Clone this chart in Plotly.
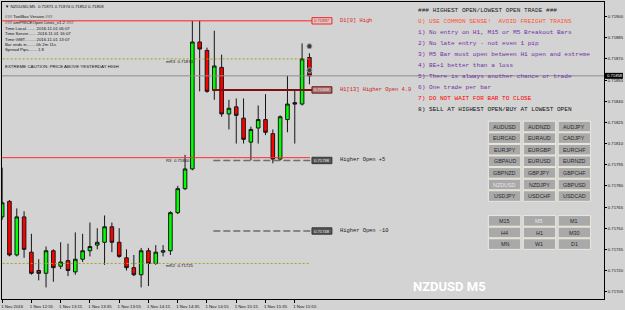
import plotly.graph_objects as go

# ---------------- data ----------------
bar_index = list(range(43))
opens = [0.71758, 0.71769, 0.71731, 0.71758, 0.71733, 0.71720, 0.71718, 0.71734, 0.71723, 0.71727,
         0.71719, 0.71728, 0.71734, 0.71738, 0.71740, 0.71751, 0.71740, 0.71729, 0.71722, 0.71717,
         0.71734, 0.71725, 0.71733, 0.71734, 0.71761, 0.71778, 0.71792, 0.71882, 0.71876, 0.71848,
         0.71864, 0.71831, 0.71836, 0.71828, 0.71811, 0.71821, 0.71827, 0.71817, 0.71799, 0.71827,
         0.71839, 0.71838, 0.71871]
highs = [0.71793, 0.71770, 0.71764, 0.71762, 0.71746, 0.71728, 0.71737, 0.71735, 0.71740, 0.71739,
         0.71747, 0.71746, 0.71754, 0.71750, 0.71759, 0.71754, 0.71750, 0.71735, 0.71731, 0.71736,
         0.71736, 0.71738, 0.71738, 0.71762, 0.71780, 0.71802, 0.71897, 0.71897, 0.71878, 0.71890,
         0.71873, 0.71841, 0.71842, 0.71842, 0.71822, 0.71837, 0.71845, 0.71820, 0.71830, 0.71858,
         0.71848, 0.71881, 0.71874]
lows = [0.71756, 0.71730, 0.71730, 0.71729, 0.71717, 0.71713, 0.71708, 0.71712, 0.71721, 0.71716,
        0.71717, 0.71726, 0.71730, 0.71735, 0.71724, 0.71733, 0.71729, 0.71720, 0.71716, 0.71708,
        0.71709, 0.71724, 0.71730, 0.71731, 0.71760, 0.71777, 0.71791, 0.71847, 0.71846, 0.71841,
        0.71829, 0.71820, 0.71810, 0.71810, 0.71798, 0.71810, 0.71816, 0.71796, 0.71798, 0.71818,
        0.71810, 0.71837, 0.71852]
closes = [0.71768, 0.71731, 0.71758, 0.71735, 0.71718, 0.71718, 0.71734, 0.71722, 0.71726, 0.71720,
          0.71728, 0.71734, 0.71737, 0.71740, 0.71751, 0.71740, 0.71730, 0.71722, 0.71717, 0.71734,
          0.71725, 0.71733, 0.71734, 0.71761, 0.71778, 0.71792, 0.71882, 0.71877, 0.71847, 0.71865,
          0.71831, 0.71835, 0.71830, 0.71813, 0.71820, 0.71827, 0.71818, 0.71799, 0.71829, 0.71838,
          0.71838, 0.71870, 0.71858]

x_tick_pos = [0, 4, 8, 12, 16, 20, 24, 28, 32, 36, 40]
x_tick_labels = ["1 Nov 2016", "1 Nov 12:55", "1 Nov 13:15", "1 Nov 13:35", "1 Nov 13:55",
                 "1 Nov 14:15", "1 Nov 14:35", "1 Nov 14:55", "1 Nov 15:15", "1 Nov 15:35",
                 "1 Nov 15:55"]
y_tick_vals = [0.71900, 0.71885, 0.71870, 0.71855, 0.71840, 0.71825, 0.71810, 0.71795,
               0.71780, 0.71765, 0.71750, 0.71735, 0.71720, 0.71705]
y_tick_labels = ["0.71900", "0.71885", "0.71870", "0.71855", "0.71840", "0.71825", "0.71810",
                 "0.71795", "0.71780", "0.71765", "0.71750", "0.71735", "0.71720", "0.71705"]

bid_price = 0.71858
d1_high = 0.71897
h1_open = 0.71848
higher_open_p5 = 0.71798
higher_open_m10 = 0.71748
pivot_names = ["mR3", "R3", "mR2"]
pivot_levels = [0.71870, 0.71800, 0.71725]

info_lines = ["### ToolBox Version ###",
              "### amPRICEOpen Lines_v1.2 ###",
              "Time Local........ 2016.11.01 06:07",
              "Time Server....... 2016.11.01 16:07",
              "Time GMT......... 2016.11.01 13:07",
              "Bar ends in....... 0h 2m 11s",
              "Spread Pips....... 1.8"]
rules = ["### HIGHEST OPEN/LOWEST OPEN TRADE ###",
         "0) USE COMMON SENSE!  AVOID FREIGHT TRAINS",
         "1) No entry on H1, M15 or M5 Breakout Bars",
         "2) No late entry - not even 1 pip",
         "3) M5 Bar must open between H1 open and extreme",
         "4) BE+1 better than a loss",
         "5) There is always another chance or trade",
         "6) One trade per bar",
         "7) DO NOT WAIT FOR BAR TO CLOSE",
         "8) SELL AT HIGHEST OPEN/BUY AT LOWEST OPEN"]
rule_colors = ["#202020", "#FF5533", "#7030A8", "#7030A8", "#7030A8", "#7030A8",
               "#7030A8", "#7030A8", "#FF0000", "#111111"]
pair_buttons = [["AUDUSD", "AUDNZD", "AUDJPY"],
                ["EURCAD", "EURAUD", "CADJPY"],
                ["EURJPY", "EURGBP", "EURCHF"],
                ["GBPAUD", "EURUSD", "EURNZD"],
                ["GBPNZD", "GBPJPY", "GBPCHF"],
                ["NZDUSD", "NZDJPY", "GBPUSD"],
                ["USDJPY", "USDCHF", "USDCAD"]]
tf_buttons = [["M15", "M5", "M1"], ["H4", "H1", "M30"], ["MN", "W1", "D1"]]
selected = {"NZDUSD", "M5"}

# ---------------- layout helpers ----------------
FW, FH = 625, 310
L, R, T, B = 2, 19, 1, 10
W, H = FW - L - R, FH - T - B
BAR_PX = 7.34
X0 = -0.02
X1 = X0 + W / BAR_PX
PX_PER_UNIT = 142000.0
Y1 = 0.71900 + (15.7 - T) / PX_PER_UNIT
Y0 = Y1 - H / PX_PER_UNIT


def px(x):
    return (x - L) / W


def py(y):
    return 1 - (y - T) / H


def bx(xpix):
    return X0 + (xpix - L) / BAR_PX


BG = "#D3D3D3"
SANS = "Liberation Sans, Arial, sans-serif"
MONO = "Liberation Mono, Courier New, monospace"

fig = go.Figure()
fig.add_trace(go.Candlestick(
    x=bar_index, open=opens, high=highs, low=lows, close=closes,
    increasing=dict(fillcolor="#00FF00", line=dict(color="#151515", width=1)),
    decreasing=dict(fillcolor="#FF0000", line=dict(color="#151515", width=1)),
    whiskerwidth=0, showlegend=False, hoverinfo="skip"))

# markers on last bar
fig.add_trace(go.Scatter(x=[42, 42], y=[0.71879, 0.71862], mode="markers",
                         marker=dict(symbol="circle", size=5, color="#3a3a3a",
                                     line=dict(color="#9a9a9a", width=1)),
                         showlegend=False, hoverinfo="skip"))

shapes = []
ann = []

# bid line
shapes.append(dict(type="line", xref="paper", yref="y", x0=0, x1=1, y0=bid_price, y1=bid_price,
                   line=dict(color="#8c8c8c", width=1)))
# pivot lines
for name, lv in zip(pivot_names, pivot_levels):
    if name.startswith("m"):
        shapes.append(dict(type="line", xref="x", yref="y", x0=X0 - 1, x1=bx(311), y0=lv, y1=lv,
                           line=dict(color="#A8A020", width=1, dash="2px,2px")))
    else:
        shapes.append(dict(type="line", xref="x", yref="y", x0=X0 - 1, x1=bx(311), y0=lv, y1=lv,
                           line=dict(color="#FF3030", width=1)))
    ann.append(dict(xref="paper", yref="y", x=px(165), y=lv, yshift=-2.5, xanchor="left",
                    yanchor="middle", text=f"{name}  {lv:.5f}", showarrow=False,
                    font=dict(family=SANS, size=4.3, color="#111")))

# D1 high line
shapes.append(dict(type="line", xref="x", yref="y", x0=X0 - 1, x1=bx(313), y0=d1_high, y1=d1_high,
                   line=dict(color="#FF2020", width=1)))
# H1 open line
shapes.append(dict(type="line", xref="x", yref="y", x0=bx(213), x1=bx(313), y0=h1_open, y1=h1_open,
                   line=dict(color="#7a1010", width=2)))
# higher open dashed lines
for lv in (higher_open_p5, higher_open_m10):
    shapes.append(dict(type="line", xref="x", yref="y", x0=bx(214), x1=bx(313), y0=lv, y1=lv,
                       line=dict(color="#6e6e6e", width=1.5, dash="7px,3px")))

# price boxes + labels
boxes = [(d1_high, "#D8C8C8", "#FF2020", "#D02020", "D1[0] High", "#E02020"),
         (h1_open, "#B07878", "#6a1010", "#F0E0E0", "H1[13] Higher Open 4.9", "#D02020"),
         (higher_open_p5, "#555555", "#333333", "#E8E8E8", "Higher Open +5", "#202020"),
         (higher_open_m10, "#555555", "#333333", "#E8E8E8", "Higher Open -10", "#202020")]
for lv, fill, border, tcol, label, lcol in boxes:
    shapes.append(dict(type="rect", xref="paper", yref="y", x0=px(313), x1=px(333),
                       y0=lv - 3.2 / PX_PER_UNIT, y1=lv + 3.2 / PX_PER_UNIT,
                       fillcolor=fill, line=dict(color=border, width=1)))
    ann.append(dict(xref="paper", yref="y", x=px(323), y=lv, xanchor="center", yanchor="middle",
                    text=f"{lv:.5f}", showarrow=False, font=dict(family=SANS, size=4.2, color=tcol)))
    ann.append(dict(xref="paper", yref="y", x=px(339), y=lv, xanchor="left", yanchor="middle",
                    text=label, showarrow=False, font=dict(family=MONO, size=5.4, color=lcol)))

# bid box on right axis
shapes.append(dict(type="rect", xref="paper", yref="y", x0=px(606), x1=px(625),
                   y0=bid_price - 3 / PX_PER_UNIT, y1=bid_price + 3 / PX_PER_UNIT,
                   fillcolor="#000000", line=dict(width=0)))
ann.append(dict(xref="paper", yref="y", x=px(607), y=bid_price, xanchor="left", yanchor="middle",
                text=f"{bid_price:.5f}", showarrow=False, font=dict(family=SANS, size=4.2, color="#FFFFFF")))

# top-left title and info
ann.append(dict(xref="paper", yref="paper", x=px(3), y=py(5.3), xanchor="left", yanchor="middle",
                text="▼ NZDUSD,M5  0.71871 0.71874 0.71852 0.71858", showarrow=False,
                font=dict(family=SANS, size=4.3, color="#111")))
info_y = [15.7, 21.7, 27.2, 32.8, 38.3, 43.7, 49.0]
for t, yy in zip(info_lines, info_y):
    ann.append(dict(xref="paper", yref="paper", x=px(3), y=py(yy), xanchor="left", yanchor="middle",
                    text=t, showarrow=False, font=dict(family=SANS, size=4.3, color="#111")))
ann.append(dict(xref="paper", yref="paper", x=px(3), y=py(65.7), xanchor="left", yanchor="middle",
                text="EXTREME CAUTION: PRICE ABOVE YESTERDAY HIGH", showarrow=False,
                font=dict(family=SANS, size=4.4, color="#111")))

# rules block
rule_y = [10, 20.8, 32.2, 43.2, 54, 65, 76, 87.2, 98.2, 109]
for t, c, yy in zip(rules, rule_colors, rule_y):
    ann.append(dict(xref="paper", yref="paper", x=px(417), y=py(yy), xanchor="left", yanchor="middle",
                    text=t, showarrow=False, font=dict(family=MONO, size=6.1, color=c)))

# buttons
def add_buttons(grid, top):
    for r, row in enumerate(grid):
        for c, name in enumerate(row):
            x0 = 490 + c * 35
            y0 = top + r * 11.67
            shapes.append(dict(type="rect", xref="paper", yref="paper", x0=px(x0), x1=px(x0 + 32.5),
                               y0=py(y0 + 10.7), y1=py(y0), fillcolor="#A9A9A9",
                               line=dict(color="#ECE8DC", width=1)))
            ann.append(dict(xref="paper", yref="paper", x=px(x0 + 16.25), y=py(y0 + 5.4),
                            xanchor="center", yanchor="middle", text=name, showarrow=False,
                            font=dict(family=SANS, size=5.4,
                                      color="#E6E6E6" if name in selected else "#2a2a2a")))


add_buttons(pair_buttons, 121)
add_buttons(tf_buttons, 216)

# watermark
ann.append(dict(xref="paper", yref="paper", x=px(451), y=py(287), xanchor="center", yanchor="middle",
                text="<b>NZDUSD M5</b>", showarrow=False,
                font=dict(family="Roboto, Liberation Sans, sans-serif", size=13, color="#FFFFFF")))

fig.update_layout(
    width=FW, height=FH, margin=dict(l=L, r=R, t=T, b=B),
    paper_bgcolor=BG, plot_bgcolor=BG, showlegend=False,
    shapes=shapes, annotations=ann,
    xaxis=dict(range=[X0, X1], tickmode="array", tickvals=x_tick_pos, ticktext=x_tick_labels,
               ticks="outside", ticklen=3, tickcolor="#000", showline=True, linecolor="#000",
               linewidth=1, mirror=True, showgrid=False, zeroline=False,
               rangeslider=dict(visible=False), tickfont=dict(family=SANS, size=4.3, color="#111"),
               ticklabelshift=10, fixedrange=True),
    yaxis=dict(range=[Y0, Y1], side="right", tickmode="array", tickvals=y_tick_vals,
               ticktext=y_tick_labels, ticks="outside", ticklen=2, tickcolor="#000",
               showline=True, linecolor="#000", linewidth=1, mirror=True, showgrid=False,
               zeroline=False, tickfont=dict(family=SANS, size=4.2, color="#111"), fixedrange=True),
)

fig.write_html("out.html")
